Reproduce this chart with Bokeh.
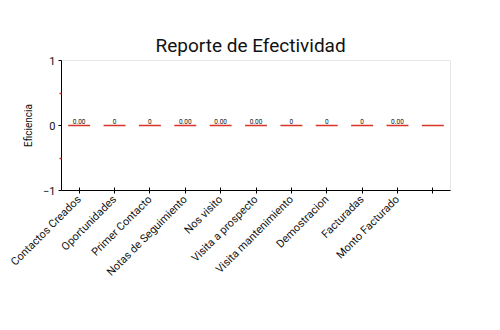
import math
from bokeh.plotting import figure
from bokeh.models import FactorRange, Range1d, FixedTicker, ColumnDataSource
from bokeh.embed import file_html
from bokeh.resources import INLINE
from bokeh.core.properties import value

categories = ["Contactos Creados", "Oportunidades", "Primer Contacto", "Notas de Seguimiento",
              "Nos visito", "Visita a prospecto", "Visita mantenimiento", "Demostracion",
              "Facturadas", "Monto Facturado", " "]
efficiency = [0, 0, 0, 0, 0, 0, 0, 0, 0, 0, 0]
value_labels = ["0.00", "0", "0", "0.00", "0.00", "0.00", "0", "0", "0", "0.00", ""]
y_ticks = [-1, 0, 1]
y_minor = [-0.5, 0.5]

FONT = "Roboto"
RED = "#d9342b"
INK = "#111111"

src = ColumnDataSource(dict(cat=categories, val=efficiency, lab=value_labels))

p = figure(width=492, height=322, x_range=FactorRange(*categories), y_range=Range1d(-1, 1),
           output_backend="svg", toolbar_location=None,
           title="Reporte de Efectividad",
           min_border_left=61, min_border_right=42, min_border_top=60, min_border_bottom=132)

p.title.align = "left"
p.title.text_font = FONT
p.title.text_font_size = "19px"
p.title.text_font_style = "normal"
p.title.text_color = INK
p.title.standoff = 8
p.title.offset = 94

p.rect(x="cat", y="val", width=0.62, height=1.4, height_units="screen", source=src,
       fill_color=RED, line_color=None)
p.text(x="cat", y="val", text="lab", source=src, text_font=value(FONT),
       text_font_size="6.5px", text_align="center", text_baseline="bottom",
       y_offset=-2, text_color=INK)

p.xgrid.visible = False
p.ygrid.visible = False
p.outline_line_color = "#e6e6e6"
p.outline_line_width = 1

p.yaxis.ticker = FixedTicker(ticks=y_ticks, minor_ticks=y_minor)
p.yaxis.axis_label = "Eficiencia"
p.yaxis.axis_label_text_font = FONT
p.yaxis.axis_label_text_font_size = "10px"
p.yaxis.axis_label_text_font_style = "normal"
p.yaxis.axis_label_text_color = INK
p.yaxis.axis_label_standoff = 6
p.yaxis.major_label_text_font = FONT
p.yaxis.major_label_text_font_size = "11px"
p.yaxis.major_label_text_color = INK
p.yaxis.major_tick_in = 0
p.yaxis.major_tick_out = 3
p.yaxis.minor_tick_in = 0
p.yaxis.minor_tick_out = 2
p.yaxis.minor_tick_line_color = RED
p.yaxis.minor_tick_line_width = 1.5
p.yaxis.axis_line_color = "black"
p.yaxis.major_label_standoff = 3

p.xaxis.major_label_orientation = math.pi / 4
p.xaxis.major_label_text_font = FONT
p.xaxis.major_label_text_font_size = "11px"
p.xaxis.major_label_text_color = INK
p.xaxis.major_tick_in = 3
p.xaxis.major_tick_out = 3
p.xaxis.axis_line_color = "black"
p.xaxis.major_label_standoff = 4

open("out.html", "w").write(file_html(p, INLINE))
